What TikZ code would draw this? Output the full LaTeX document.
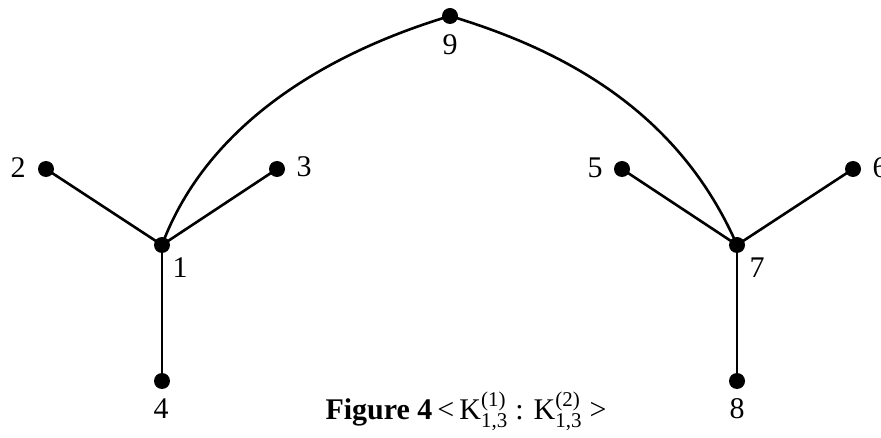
\documentclass[tikz,border=0pt]{standalone}
\usepackage{fontspec}
\setmainfont{Liberation Serif}
\newcommand{\kbip}[1]{K\rlap{\raisebox{0.25ex}{\textsuperscript{(#1)}}}\raisebox{-0.25ex}{\textsubscript{1,3}}}
\begin{document}
\begin{tikzpicture}[x=1pt,y=-1pt,
  vtx/.style={circle,fill=black,inner sep=0pt,minimum size=16pt},
  edge/.style={line width=2.6pt},
  lbl/.style={font=\fontsize{30}{36}\selectfont,inner sep=0pt}]
\useasboundingbox (0,0) rectangle (881,438);
\node[vtx] (v1) at (162,245) {};
\node[vtx] (v2) at (46,169) {};
\node[vtx] (v3) at (277,169) {};
\node[vtx] (v4) at (162,381) {};
\node[vtx] (v5) at (622,169) {};
\node[vtx] (v6) at (853,169) {};
\node[vtx] (v7) at (737,245) {};
\node[vtx] (v8) at (737,381) {};
\node[vtx] (v9) at (450,16) {};
\node[lbl] (l1) at (180,268) {1};
\node[lbl] (l2) at (18,168) {2};
\node[lbl] (l3) at (304,167) {3};
\node[lbl] (l4) at (161,409) {4};
\node[lbl] (l5) at (595,168) {5};
\node[lbl] (l6) at (880,168) {6};
\node[lbl] (l7) at (757,268) {7};
\node[lbl] (l8) at (737,409) {8};
\node[lbl] (l9) at (450,45) {9};
\draw[edge] (v1.center) -- (v2.center);
\draw[edge] (v1.center) -- (v3.center);
\draw[edge] (v1.center) -- (v4.center);
\draw[edge] (v7.center) -- (v5.center);
\draw[edge] (v7.center) -- (v6.center);
\draw[edge] (v7.center) -- (v8.center);
\draw[edge] (v1.center) .. controls (208,122) and (330,52) .. (v9.center);
\draw[edge] (v9.center) .. controls (570,52) and (680,115) .. (v7.center);
\node[lbl,anchor=base] (cap) at (466,419) {\textbf{Figure 4}\,<\,\kbip{1} : \kbip{2} >};
\end{tikzpicture}
\end{document}
